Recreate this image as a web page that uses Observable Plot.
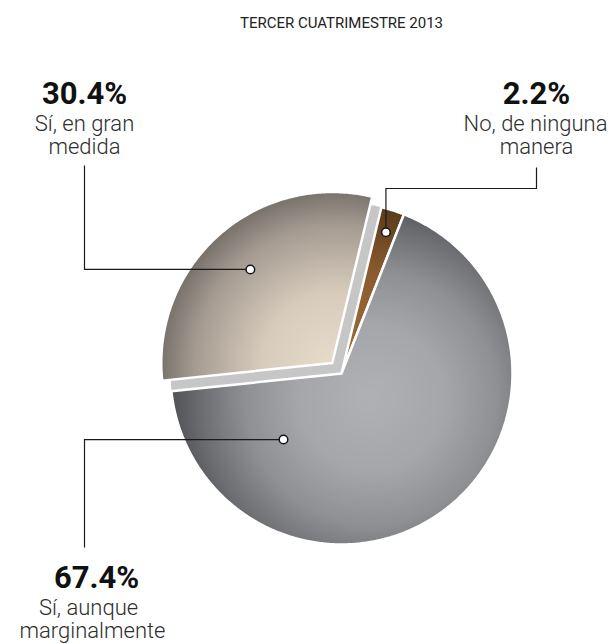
<!DOCTYPE html>
<html><head><meta charset="utf-8">
<script src="https://cdn.jsdelivr.net/npm/d3@7"></script>
<script src="https://cdn.jsdelivr.net/npm/@observablehq/plot@0.6"></script>
<style>html,body{margin:0;padding:0;background:#fff;} #chart{width:616px;height:644px;overflow:hidden}</style>
</head><body><div id="chart"></div>
<script>
// ---- data ----
const title = "TERCER CUATRIMESTRE 2013";
const categories = ["No, de ninguna manera", "Sí, aunque marginalmente", "Sí, en gran medida"];
const values = [2.2, 67.4, 30.4];
const valueLabels = ["2.2%", "67.4%", "30.4%"];
const descLines = [["No, de ninguna", "manera"], ["Sí, aunque", "marginalmente"], ["Sí, en gran", "medida"]];

// ---- layout ----
const W = 616, H = 644;
const CX = 341, CY = 373, R = 171, EXPLODE = 14;
const START = 13.5 * Math.PI / 180;
const explodedIndex = 2;
const deg = Math.PI / 180;

const arcs = d3.pie().sort(null).startAngle(START).endAngle(START + 2 * Math.PI)(values);

function offsetOf(i) {
  if (i !== explodedIndex) return [0, 0];
  const m = (arcs[i].startAngle + arcs[i].endAngle) / 2;
  return [EXPLODE * Math.sin(m), -EXPLODE * Math.cos(m)];
}

const polys = [];
arcs.forEach((a, i) => {
  const [ox, oy] = offsetOf(i);
  const cx = CX + ox, cy = CY + oy;
  polys.push({slice: i, x: cx, y: cy});
  const n = Math.max(2, Math.ceil((a.endAngle - a.startAngle) / (0.5 * deg)));
  for (let k = 0; k <= n; k++) {
    const t = a.startAngle + (a.endAngle - a.startAngle) * k / n;
    polys.push({slice: i, x: cx + R * Math.sin(t), y: cy - R * Math.cos(t)});
  }
});

// dot placement (angle: null = mid angle), radius fraction
const dotSpec = [{angle: null, rf: 0.866}, {angle: 221.3 * deg, rf: 0.514}, {angle: null, rf: 0.727}];
const dots = arcs.map((a, i) => {
  const [ox, oy] = offsetOf(i);
  const t = dotSpec[i].angle ?? (a.startAngle + a.endAngle) / 2;
  const r = dotSpec[i].rf * R;
  return {slice: i, x: CX + ox + r * Math.sin(t), y: CY + oy - r * Math.cos(t)};
});

// label layout
const labelLayout = [
  {numX: 536, numY: 103, lineX: [535, 536], lineY: [130, 153]},
  {numX: 96, numY: 587, lineX: [88, 92], lineY: [614, 637]},
  {numX: 84, numY: 103, lineX: [84, 84], lineY: [130, 153]}
];
const leaders = [];
(function () {
  const d0 = dots[0], d1 = dots[1], d2 = dots[2];
  [[536, 167], [536, 188], [d0.x, 188], [d0.x, d0.y]].forEach(([x, y]) => leaders.push({id: 0, x, y}));
  [[84, 547], [84, d1.y], [d1.x, d1.y]].forEach(([x, y]) => leaders.push({id: 1, x, y}));
  [[84, 165], [84, d2.y], [d2.x, d2.y]].forEach(([x, y]) => leaders.push({id: 2, x, y}));
})();

const numTexts = valueLabels.map((t, i) => ({text: t, x: labelLayout[i].numX, y: labelLayout[i].numY}));
const descTexts = [];
descLines.forEach((lines, i) => lines.forEach((t, j) => descTexts.push({text: t, x: labelLayout[i].lineX[j], y: labelLayout[i].lineY[j]})));

const [eox, eoy] = offsetOf(explodedIndex);
const fills = ["url(#gBrown)", "url(#gGrey)", "url(#gBeige)"];

const sliceMarks = arcs.map((a, i) => Plot.line(polys.filter(d => d.slice === i), {
  x: "x", y: "y", curve: "linear-closed", fill: fills[i], stroke: "white",
  strokeWidth: 2.5, strokeLinejoin: "miter", strokeMiterlimit: 10
}));
const shadowMarks = arcs.map((a, i) => Plot.line(polys.filter(d => d.slice === i), {
  x: "x", y: "y", curve: "linear-closed", fill: "#5a5a5a", fillOpacity: 0.75, stroke: "none", ariaLabel: "shadow"
}));

const font = "Roboto, 'Open Sans', 'DejaVu Sans', sans-serif";

const svg = Plot.plot({
  width: W, height: H, margin: 0,
  x: {domain: [0, W], range: [0, W], axis: null},
  y: {domain: [0, H], range: [0, H], axis: null},
  style: {background: "white", overflow: "visible"},
  marks: [
    ...shadowMarks,
    Plot.dot([{x: CX, y: CY}], {x: "x", y: "y", r: R, fill: "#c6c6c6", stroke: "none"}),
    ...sliceMarks,
    Plot.line(leaders, {x: "x", y: "y", z: "id", stroke: "#1a1a1a", strokeWidth: 1.2, strokeLinecap: "butt", strokeLinejoin: "miter", strokeMiterlimit: 10}),
    Plot.dot(dots, {x: "x", y: "y", r: 4.3, fill: "white", stroke: "#151515", strokeWidth: 1.5}),
    Plot.text([{text: title, x: CX, y: 27}], {x: "x", y: "y", text: "text", fontSize: 15, fontFamily: font, fill: "#222", lineAnchor: "bottom", textAnchor: "middle"}),
    Plot.text(numTexts, {x: "x", y: "y", text: "text", fontSize: 31, fontWeight: 700, fontFamily: font, fill: "#111", lineAnchor: "bottom", textAnchor: "middle"}),
    Plot.text(descTexts, {x: "x", y: "y", text: "text", fontSize: 22, fontWeight: 300, fontFamily: font, fill: "#2e2e2e", lineAnchor: "bottom", textAnchor: "middle"})
  ]
});

const defs = `
<defs>
  <filter id="blur" x="-30%" y="-30%" width="160%" height="160%"><feGaussianBlur stdDeviation="9"/></filter>
  <radialGradient id="gGrey" gradientUnits="userSpaceOnUse" cx="${CX + 30}" cy="${CY + 25}" r="210">
    <stop offset="0" stop-color="#b0b1b4"/>
    <stop offset="0.35" stop-color="#a5a6a9"/>
    <stop offset="0.6" stop-color="#8f9094"/>
    <stop offset="0.82" stop-color="#6b6c70"/>
    <stop offset="1" stop-color="#46474b"/>
  </radialGradient>
  <radialGradient id="gBrown" gradientUnits="userSpaceOnUse" cx="${CX + 30}" cy="${CY + 25}" r="210">
    <stop offset="0" stop-color="#a8743f"/>
    <stop offset="0.6" stop-color="#8a5b2e"/>
    <stop offset="1" stop-color="#4a3017"/>
  </radialGradient>
  <radialGradient id="gBeige" gradientUnits="userSpaceOnUse" cx="${CX + eox + 5}" cy="${CY + eoy + 5}" r="190">
    <stop offset="0" stop-color="#e8dccb"/>
    <stop offset="0.4" stop-color="#d7cbbc"/>
    <stop offset="0.75" stop-color="#a59b91"/>
    <stop offset="1" stop-color="#67625d"/>
  </radialGradient>
</defs>`;
svg.insertAdjacentHTML("afterbegin", defs);
d3.select(svg).selectAll('g[aria-label="shadow"]').attr("filter", "url(#blur)");
document.getElementById("chart").appendChild(svg);
</script>
</body></html>
